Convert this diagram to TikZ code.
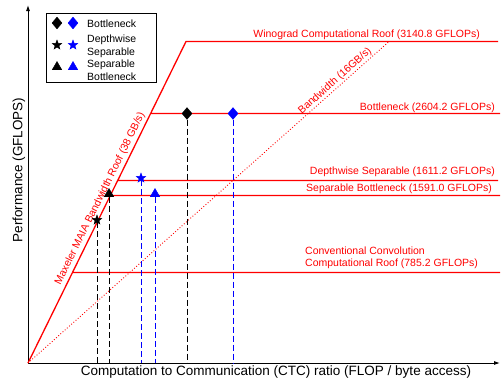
\documentclass[tikz,border=0pt]{standalone}
\usepackage{fontspec}
\setmainfont{Liberation Sans}
\usetikzlibrary{shapes.geometric,arrows.meta}
\definecolor{roofred}{RGB}{255,0,0}
\definecolor{markblue}{RGB}{0,0,255}
\begin{document}
\begin{tikzpicture}[x=1pt,y=-1pt,
  axis/.style={line width=0.9pt,-{Latex[length=6pt,width=4pt]}},
  roof/.style={color=roofred,line width=1.3pt},
  bwdot/.style={color=roofred,line width=0.9pt,dotted},
  drop/.style={line width=0.9pt,dash pattern=on 6pt off 3pt},
  lbl/.style={text=roofred,font=\fontsize{10.5}{12}\selectfont,inner sep=0pt},
  leg/.style={font=\fontsize{10.5}{12}\selectfont,inner sep=0pt,anchor=base west},
  axlbl/.style={font=\fontsize{13.5}{15}\selectfont,inner sep=0pt},
  dia/.style={diamond,fill=#1,draw=#1,inner sep=0pt,minimum width=10pt,minimum height=12pt},
  st/.style={star,star points=5,star point ratio=2.4,fill=#1,draw=#1,inner sep=0pt,minimum size=10pt},
  tri/.style={regular polygon,regular polygon sides=3,fill=#1,draw=#1,inner sep=0pt,minimum size=11pt}]
\useasboundingbox (0,0) rectangle (501,384);
% axes
\coordinate (O) at (28,363);
\coordinate (ytop) at (28,5);
\coordinate (xend) at (500,363);
\draw[axis] (O) -- (ytop);
\draw[axis] (O) -- (xend);
% roofs
\coordinate (ridge) at (186,41.5);
\coordinate (wend) at (498,41.5);
\coordinate (bnL) at (150.5,113.5); \coordinate (bnR) at (500,113.5);
\coordinate (dwL) at (117.6,180.5); \coordinate (dwR) at (498,180.5);
\coordinate (sbL) at (110.2,195.5); \coordinate (sbR) at (500,195.5);
\coordinate (cvL) at (72.5,272.5);  \coordinate (cvR) at (500,272.5);
\draw[roof] (O) -- (ridge) -- (wend)
  (bnL) -- (bnR)
  (dwL) -- (dwR)
  (sbL) -- (sbR)
  (cvL) -- (cvR);
\coordinate (bwtop) at (389,41.5);
\draw[bwdot] (O) -- (bwtop);
% labels
\node[lbl,anchor=base east] (lw) at (480,37) {Winograd Computational Roof (3140.8 GFLOPs)};
\node[lbl,anchor=base east] (lb) at (495,110) {Bottleneck (2604.2 GFLOPs)};
\node[lbl,anchor=base east] (ld) at (495,174) {Depthwise Separable (1611.2 GFLOPs)};
\node[lbl,anchor=base east] (ls) at (492,191.5) {Separable Bottleneck (1591.0 GFLOPs)};
\node[lbl,anchor=base west] (lc1) at (305,254) {Conventional Convolution};
\node[lbl,anchor=base west] (lc2) at (305,266.5) {Computational Roof (785.2 GFLOPs)};
\path (O) -- (ridge) node[lbl,pos=0.5,sloped,anchor=base,yshift=5pt] (lmax) {Maxeler MAIA Bandwidth Roof (38 GB/s)};
\path (O) -- (bwtop) node[lbl,pos=0.862,sloped,anchor=base,yshift=3.5pt] (lbw) {Bandwidth (16GB/s)};
% markers
\node[dia=black] (m1) at (187,113.5) {};
\node[dia=markblue] (m2) at (233,113.5) {};
\node[st=black] (m3) at (97,220) {};
\node[st=markblue] (m4) at (141,178) {};
\node[tri=black] (m5) at (109,194) {};
\node[tri=markblue] (m6) at (155,194) {};
\coordinate (b1) at (187,363);
\coordinate (b2) at (233,363);
\coordinate (b3) at (97,363);
\coordinate (b4) at (141,363);
\coordinate (b5) at (109,363);
\coordinate (b6) at (155,363);
\draw[drop,black] (m1) -- (b1);
\draw[drop,markblue] (m2) -- (b2);
\draw[drop,black] (m3) -- (b3);
\draw[drop,markblue] (m4) -- (b4);
\draw[drop,black] (m5) -- (b5);
\draw[drop,markblue] (m6) -- (b6);
% legend
\node[draw,line width=0.8pt,inner sep=0pt,minimum width=110pt,minimum height=69pt,anchor=north west] (legbox) at (46,13) {};
\node[dia=black] (l1a) at (57,23) {};
\node[dia=markblue] (l1b) at (73,23) {};
\node[st=black] (l2a) at (57,45) {};
\node[st=markblue] (l2b) at (73,45) {};
\node[tri=black] (l3a) at (57,67) {};
\node[tri=markblue] (l3b) at (73,67) {};
\node[leg] (t1) at (87,27) {Bottleneck};
\node[leg] (t2) at (87,42) {Depthwise};
\node[leg] (t3) at (87,55) {Separable};
\node[leg] (t4) at (87,67.5) {Separable};
\node[leg] (t5) at (87,80) {Bottleneck};
% axis labels
\node[axlbl,rotate=90] (ylab) at (19,170) {Performance (GFLOPS)};
\node[axlbl] (xlab) at (276,372) {Computation to Communication (CTC) ratio (FLOP / byte access)};
\end{tikzpicture}
\end{document}
